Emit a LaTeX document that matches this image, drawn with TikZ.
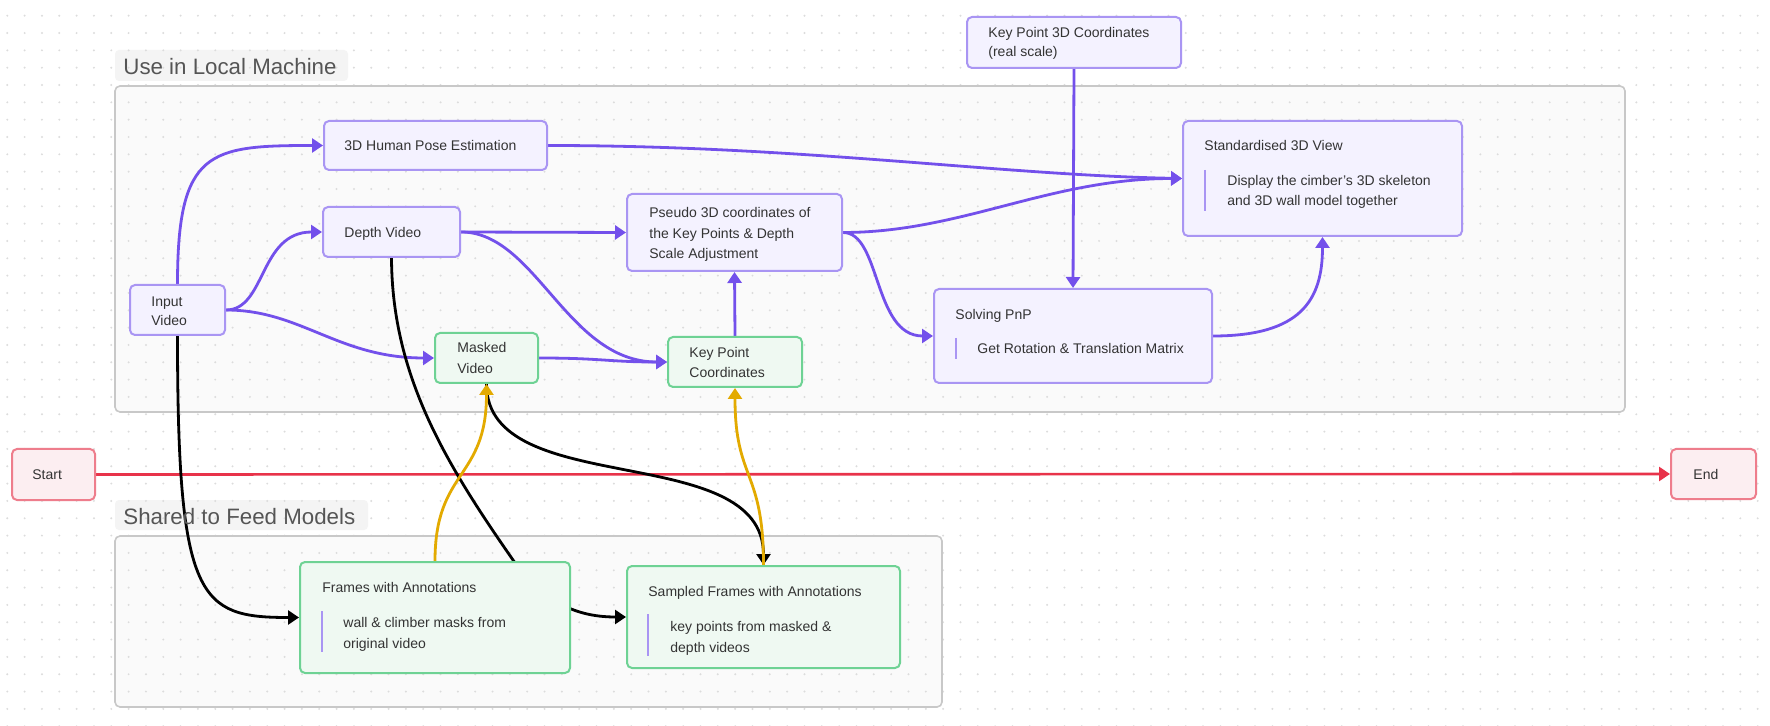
\documentclass[tikz,border=0pt]{standalone}
\usepackage{fontspec}
\setmainfont{Liberation Sans}
\usetikzlibrary{arrows.meta,fit}
\definecolor{pedge}{HTML}{7350EB}
\definecolor{pfill}{HTML}{F4F2FF}
\definecolor{pbord}{HTML}{A995F3}
\definecolor{gfill}{HTML}{EFF9F2}
\definecolor{gbord}{HTML}{6ED294}
\definecolor{rfill}{HTML}{FCEEF1}
\definecolor{rbord}{HTML}{EE7D8C}
\definecolor{redge}{HTML}{E8334A}
\definecolor{yedge}{HTML}{E3AA00}
\definecolor{tcol}{HTML}{333333}
\definecolor{ttlcol}{HTML}{555555}
\definecolor{grpfill}{HTML}{FAFAFA}
\definecolor{grpbord}{HTML}{C8C8C8}
\definecolor{ttlbg}{HTML}{F4F4F4}
\definecolor{dotc}{HTML}{DCDCDC}
\pgfdeclarelayer{bg}
\pgfdeclarelayer{edges}
\pgfsetlayers{bg,edges,main}
\begin{document}
\begin{tikzpicture}[x=0.5pt,y=-0.5pt,
  box/.style={draw, line width=1pt, rounded corners=2.5pt, inner sep=0pt},
  pbox/.style={box, draw=pbord, fill=pfill},
  gbox/.style={box, draw=gbord, fill=gfill},
  rbox/.style={box, draw=rbord, fill=rfill},
  txt/.style={inner sep=0pt, anchor=base west, font=\fontsize{7pt}{9pt}\selectfont, text=tcol},
  ttl/.style={inner sep=0pt, anchor=base west, font=\fontsize{11.15pt}{13pt}\selectfont, text=ttlcol},
  tip/.style={-{Triangle[length=5.5pt,width=7pt]}},
  pe/.style={draw=pedge, line width=1.4pt, tip},
  ke/.style={draw=black, line width=1.4pt, tip},
  ye/.style={draw=yedge, line width=1.4pt, tip},
  re/.style={draw=redge, line width=1.3pt, tip},
  descbar/.style={draw=pbord, line width=0.6pt},
  grp/.style={draw=grpbord, line width=0.8pt, rounded corners=2.5pt}
]
\useasboundingbox (0,0) rectangle (1770,726);

% ---------- background, groups, dots ----------
\begin{pgfonlayer}{bg}
  \fill[white] (0,0) rectangle (1770,726);
  \fill[grpfill, rounded corners=2.5pt] (115,86) rectangle (1625,412);
  \fill[grpfill, rounded corners=2.5pt] (115,536) rectangle (942,707);
  \fill[ttlbg, rounded corners=2pt] (115,50) rectangle (348,81);
  \fill[ttlbg, rounded corners=2pt] (115,500) rectangle (368,530);
  \foreach \i in {0,...,101} {
    \foreach \j in {0,...,41} {
      \fill[dotc] ({7.3+\i*17.33},{15.7+\j*17.33}) circle (1.1);
    }
  }
  \draw[grp] (115,86) rectangle (1625,412);
  \draw[grp] (115,536) rectangle (942,707);
\end{pgfonlayer}

\node[ttl] (ttl-local) at (123,75) {Use in Local Machine};
\node[ttl] (ttl-shared) at (123,524) {Shared to Feed Models};

% ---------- boxes ----------
\node[pbox, fit={(967,17) (1181,68)}] (kp3d) {};
\node[pbox, fit={(324,121) (547,170)}] (hpe) {};
\node[pbox, fit={(323,207) (460,257)}] (depth) {};
\node[pbox, fit={(627,194) (842,271)}] (pseudo) {};
\node[pbox, fit={(1183,121) (1462,236)}] (std) {};
\node[pbox, fit={(130,285) (225,335)}] (input) {};
\node[gbox, fit={(435,333) (538,383)}] (masked) {};
\node[gbox, fit={(668,337) (802,387)}] (kpc) {};
\node[pbox, fit={(934,289) (1212,383)}] (pnp) {};
\node[rbox, fit={(12,449) (95,500)}] (start) {};
\node[rbox, fit={(1671,449) (1756,499)}] (end) {};
\node[gbox, fit={(300,562) (570,673)}] (frames) {};
\node[gbox, fit={(627,566) (900,668)}] (sampled) {};

% ---------- texts ----------
\node[txt] (kp3d-t1) at (988,38) {Key Point 3D Coordinates};
\node[txt] (kp3d-t2) at (988,57) {(real scale)};
\node[txt] (hpe-t) at (344,151) {3D Human Pose Estimation};
\node[txt] (depth-t) at (344,238) {Depth Video};
\node[txt] (pseudo-t1) at (649,218) {Pseudo 3D coordinates of};
\node[txt] (pseudo-t2) at (649,238.5) {the Key Points \& Depth};
\node[txt] (pseudo-t3) at (649,259) {Scale Adjustment};
\node[txt] (std-t) at (1204,151) {Standardised 3D View};
\node[txt] (std-d1) at (1227,186) {Display the cimber's 3D skeleton};
\node[txt] (std-d2) at (1227,206) {and 3D wall model together};
\draw[descbar] (1205,170) -- (1205,211);
\node[txt] (input-t1) at (151,306.5) {Input};
\node[txt] (input-t2) at (151,326) {Video};
\node[txt] (masked-t1) at (457,353) {Masked};
\node[txt] (masked-t2) at (457,374) {Video};
\node[txt] (kpc-t1) at (689,358) {Key Point};
\node[txt] (kpc-t2) at (689,378) {Coordinates};
\node[txt] (pnp-t) at (955,320) {Solving PnP};
\node[txt] (pnp-d) at (977,354) {Get Rotation \& Translation Matrix};
\draw[descbar] (956,338) -- (956,359);
\node[txt] (start-t) at (32,480) {Start};
\node[txt] (end-t) at (1693,480) {End};
\node[txt] (frames-t) at (322,592) {Frames with Annotations};
\node[txt] (frames-d1) at (343,627) {wall \& climber masks from};
\node[txt] (frames-d2) at (343,648) {original video};
\draw[descbar] (322,611) -- (322,652);
\node[txt] (sampled-t) at (648,596) {Sampled Frames with Annotations};
\node[txt] (sampled-d1) at (670,631) {key points from masked \&};
\node[txt] (sampled-d2) at (670,652) {depth videos};
\draw[descbar] (648,614) -- (648,656);

% ---------- edges ----------
\begin{pgfonlayer}{edges}
  \draw[re] (start.east) -- (end.west);
  % purple
  \draw[pe] (input.north) .. controls +(0,-134) and +(-114,0) .. (hpe.west);
  \draw[pe] (input.east) .. controls +(40,0) and +(-63,0) .. (depth.west);
  \draw[pe] (input.east) .. controls +(75,0) and +(-96,0) .. (masked.west);
  \draw[pe] (depth.east) -- (pseudo.west);
  \draw[pe] (depth.east) .. controls +(75,0) and +(-100,0) .. (kpc.west);
  \draw[pe] (masked.east) .. controls +(62,0) and +(-58,0) .. (kpc.west);
  \draw[pe] (kpc.north) -- (pseudo.south);
  \draw[pe] (hpe.east) .. controls +(253,0) and +(-183,-3.5) .. (std.west);
  \draw[pe] (pseudo.east) .. controls +(118,0) and +(-133,0) .. (std.west);
  \draw[pe] (pseudo.east) .. controls +(38,0) and +(-60,0) .. (pnp.west);
  \draw[pe] (kp3d.south) -- (pnp.north);
  \draw[pe] (pnp.east) .. controls +(88,0) and +(0,63) .. (std.south);
  % black
  \draw[ke] (input.south) .. controls +(0,265) and +(-100,0) .. (frames.west);
  \draw[ke] (depth.south) .. controls (392,380) and (450,470) .. (520,570)
            .. controls (550,605) and (580,617) .. (sampled.west);
  \draw[ke] (masked.south) .. controls +(0,117) and +(0,-126) .. (sampled.north);
  % yellow
  \draw[ye] (frames.north) .. controls +(0,-92) and +(0,96) .. (masked.south);
  \draw[ye] (sampled.north) .. controls +(0,-96) and +(0,93) .. (kpc.south);
\end{pgfonlayer}
\end{tikzpicture}
\end{document}
